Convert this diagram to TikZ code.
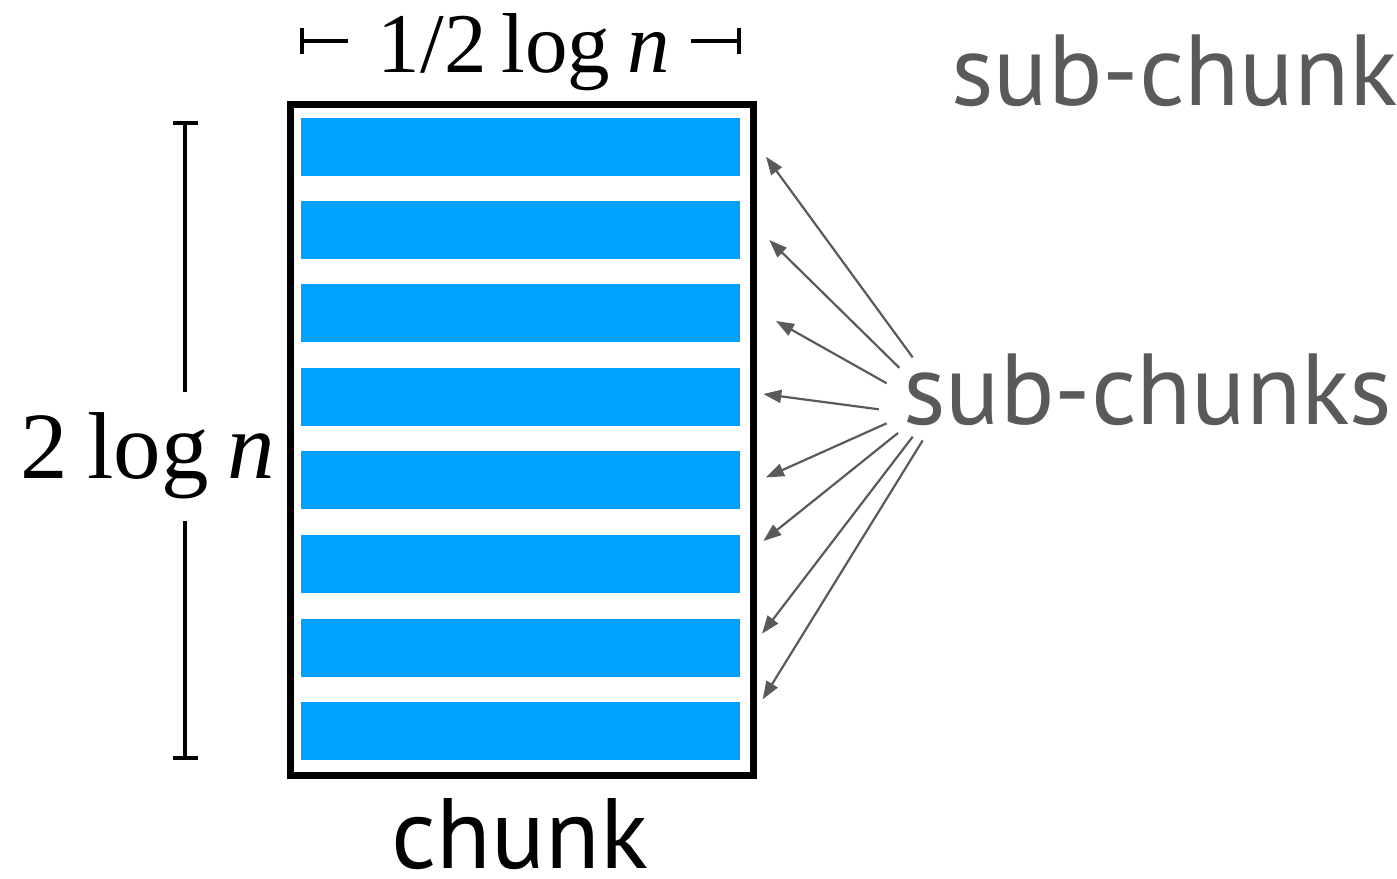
\documentclass[tikz,border=0pt]{standalone}
\usepackage{fontspec}
\setmainfont{Liberation Serif}
\newfontfamily\labelfont{PT Sans}
\usetikzlibrary{arrows.meta}
\definecolor{stripeblue}{HTML}{00A2FF}
\definecolor{labelgray}{HTML}{5A5A5A}
\begin{document}
\begin{tikzpicture}[x=1pt,y=-1pt,
  stripe/.style={fill=stripeblue,draw=none},
  ptr/.style={draw=labelgray,line width=2.2pt,-{Triangle[length=18pt,width=13pt]}},
  dimline/.style={line width=4pt,draw=black},
  graylabel/.style={inner sep=0pt,text=labelgray,font=\labelfont\fontsize{101}{105}\selectfont},
  blacklabel/.style={inner sep=0pt,text=black,font=\labelfont\fontsize{100}{105}\selectfont},
  mathlabel/.style={inner sep=0pt,text=black}]
\useasboundingbox (0,0) rectangle (1397,878);
% stripes
\foreach \t [count=\i] in {118,201,284,368,451,535,619,702}
  \fill[stripe] (301,\t) rectangle (740,\t+58);
% chunk box
\draw[line width=7pt] (290.5,104.5) rectangle (753,775.5);
% labels
\node[blacklabel,anchor=base] (chunk) at (520,868) {chunk};
\node[graylabel,anchor=base west] (subs) at (903,424) {sub-chunks};
\node[graylabel,anchor=base west] (sub) at (951,105) {sub-chunk};
\node[mathlabel,anchor=base,font=\fontsize{85}{90}\selectfont] (w) at (524,72) {1/2\hspace{0.18em}log\hspace{0.2em}\textit{n}};
\node[mathlabel,anchor=base,font=\fontsize{95}{100}\selectfont] (h) at (148,478) {2\hspace{0.2em}log\hspace{0.2em}\textit{n}};
% width dimension
\coordinate (wl) at (302,41);
\coordinate (wlb) at (348,41);
\coordinate (wr) at (739,41);
\coordinate (wrb) at (691,41);
\draw[dimline] (wl) -- (wlb);
\draw[dimline] (wrb) -- (wr);
\draw[dimline] (302,28) -- (302,54);
\draw[dimline] (739,28) -- (739,54);
% height dimension
\coordinate (ht) at (185,123);
\coordinate (htb) at (185,392);
\coordinate (hb) at (185,758);
\coordinate (hbt) at (185,521);
\draw[dimline] (ht) -- (htb);
\draw[dimline] (hbt) -- (hb);
\draw[dimline] (173,123) -- (198,123);
\draw[dimline] (173,758) -- (198,758);
% arrows
\foreach \sx/\sy/\ex/\ey [count=\i] in {
  912.7/357.4/766/156.7,
  899.3/367.8/769.3/240,
  886.7/383.3/776/321,
  878.7/409.3/763.3/394,
  886.7/423.3/766/477.4,
  898/433/763.3/541,
  912.7/436.7/762/633.7,
  922.7/440.4/762.7/699.3}{
  \coordinate (s\i) at (\sx,\sy);
  \coordinate (e\i) at (\ex,\ey);
  \draw[ptr] (s\i) -- (e\i);
}
\end{tikzpicture}
\end{document}
